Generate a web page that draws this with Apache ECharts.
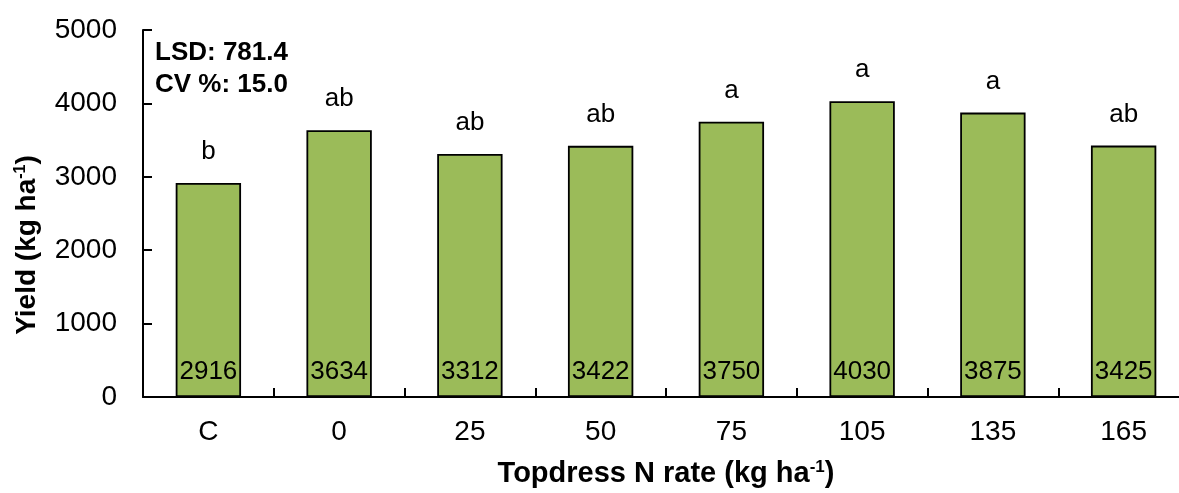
<!DOCTYPE html>
<html>
<head>
<meta charset="utf-8">
<script src="https://cdn.jsdelivr.net/npm/echarts@6/dist/echarts.min.js"></script>
<style>
  html, body { margin: 0; padding: 0; background: #fff; }
  #chart { width: 1179px; height: 493px; }
</style>
</head>
<body>
<div id="chart"></div>
<script>
// Topdress N rate treatments and mean yields
const categories = ['C', '0', '25', '50', '75', '105', '135', '165'];
const yieldValues = [2916, 3634, 3312, 3422, 3750, 4030, 3875, 3425];
const letters = ['b', 'ab', 'ab', 'ab', 'a', 'a', 'a', 'ab'];
const yTicks = [0, 1000, 2000, 3000, 4000, 5000];
const statsLines = ['LSD: 781.4', 'CV %: 15.0'];

const FONT = 'Liberation Sans, Arial, sans-serif';
const chart = echarts.init(document.getElementById('chart'), null, { renderer: 'canvas' });

const titleRich = (size, supSize) => ({
  t: { fontFamily: FONT, fontWeight: 'bold', fontSize: size, color: '#000', fill: '#000' },
  s: { fontFamily: FONT, fontWeight: 'bold', fontSize: supSize, color: '#000', fill: '#000', padding: [0, 0, 12, 0] }
});

chart.setOption({
  animation: false,
  backgroundColor: '#ffffff',
  grid: { left: 143, right: -10, top: 30, bottom: 96, containLabel: false, outerBoundsMode: 'none' },
  xAxis: {
    type: 'category',
    data: categories,
    axisLine: { lineStyle: { color: '#000', width: 2 } },
    axisTick: { show: true, inside: true, length: 9, lineStyle: { color: '#000', width: 2 } },
    axisLabel: { color: '#000', fontFamily: FONT, fontSize: 28, margin: 21 },
    name: '{t|Topdress N rate (kg ha}{s|-1}{t|)}',
    nameLocation: 'middle',
    nameGap: 62,
    nameTextStyle: { rich: titleRich(29, 17) }
  },
  yAxis: {
    type: 'value',
    min: yTicks[0],
    max: yTicks[yTicks.length - 1],
    interval: yTicks[1] - yTicks[0],
    splitLine: { show: false },
    axisLine: { show: true, lineStyle: { color: '#000', width: 2 } },
    axisTick: { show: true, inside: true, length: 9, lineStyle: { color: '#000', width: 2 } },
    axisLabel: { color: '#000', fontFamily: FONT, fontSize: 28, margin: 26, formatter: v => String(v) }
  },
  series: [
    {
      // yield bars with the mean printed at the base
      type: 'bar',
      data: yieldValues,
      barWidth: '50%',
      itemStyle: { color: '#9BBB59', borderColor: '#000', borderWidth: 1.8 },
      label: {
        show: true,
        position: 'insideBottom',
        distance: 12,
        color: '#000',
        fontFamily: FONT,
        fontSize: 26
      },
      z: 2
    },
    {
      // mean separation letters above each bar
      type: 'bar',
      data: yieldValues,
      barWidth: '50%',
      barGap: '-100%',
      itemStyle: { color: 'rgba(0,0,0,0)' },
      label: {
        show: true,
        position: 'top',
        distance: 18,
        color: '#000',
        fontFamily: FONT,
        fontSize: 26,
        formatter: p => letters[p.dataIndex]
      },
      silent: true,
      z: 3
    }
  ],
  graphic: [
    // y-axis title, reading bottom to top
    {
      type: 'text',
      x: 27,
      y: 245,
      rotation: Math.PI / 2,
      style: {
        text: '{t|Yield (kg ha}{s|-1}{t|)}',
        rich: titleRich(28, 16),
        align: 'center',
        verticalAlign: 'middle'
      }
    }
  ].concat(statsLines.map((txt, i) => ({
    type: 'text',
    left: 155,
    top: 40 + i * 32,
    style: { text: txt, fontFamily: FONT, fontWeight: 'bold', fontSize: 26, fill: '#000' }
  })))
});
</script>
</body>
</html>
